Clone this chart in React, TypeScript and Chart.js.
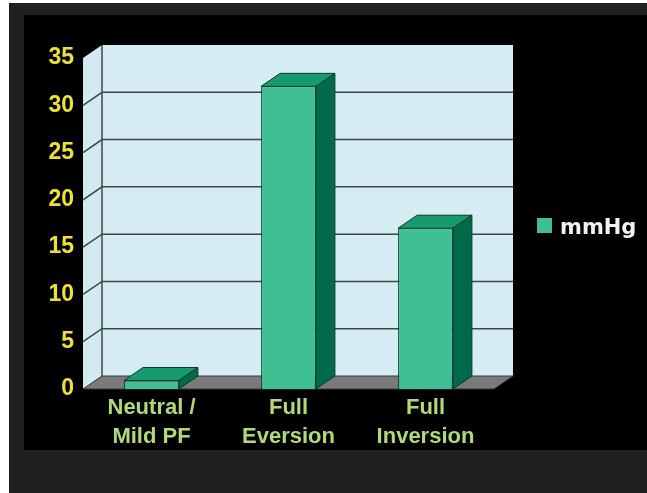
import React, { useEffect, useRef } from "react";
import { Chart, registerables } from "chart.js";

Chart.register(...registerables);

const categories: string[][] = [
  ["Neutral /", "Mild PF"],
  ["Full", "Eversion"],
  ["Full", "Inversion"],
];
const seriesName = "mmHg";
const values = [0.9, 32, 17];
const yMin = 0;
const yMax = 35;
const yStep = 5;

const DX = 19;
const DY = 13;

const threeD = {
  id: "threeD",
  beforeDraw(chart: any) {
    const ctx: CanvasRenderingContext2D = chart.ctx;
    const w = chart.width;
    const h = chart.height;
    ctx.save();
    ctx.fillStyle = "#ffffff";
    ctx.fillRect(0, 0, w, h);
    ctx.fillStyle = "#221f20";
    ctx.fillRect(9, 3, w - 9, h - 3);
    ctx.fillStyle = "#000000";
    ctx.fillRect(24, 15, w - 24, 435);

    const { left, right, top, bottom } = chart.chartArea;
    const ys = chart.scales.y;
    // back wall
    ctx.fillStyle = "#d4ecf2";
    ctx.fillRect(left + DX, top - DY, right - left, bottom - top);
    // left wall
    ctx.beginPath();
    ctx.moveTo(left, top);
    ctx.lineTo(left + DX, top - DY);
    ctx.lineTo(left + DX, bottom - DY);
    ctx.lineTo(left, bottom);
    ctx.closePath();
    ctx.fillStyle = "#d2eaf0";
    ctx.fill();
    // floor
    ctx.beginPath();
    ctx.moveTo(left, bottom);
    ctx.lineTo(right, bottom);
    ctx.lineTo(right + DX, bottom - DY);
    ctx.lineTo(left + DX, bottom - DY);
    ctx.closePath();
    ctx.fillStyle = "#7a7a7a";
    ctx.fill();
    ctx.strokeStyle = "#333b3c";
    ctx.lineWidth = 1;
    ctx.stroke();

    // gridlines
    ctx.strokeStyle = "#3b4749";
    ctx.lineWidth = 1.5;
    for (let v = yMin + yStep; v < yMax; v += yStep) {
      const py = ys.getPixelForValue(v);
      ctx.beginPath();
      ctx.moveTo(left, py);
      ctx.lineTo(left + DX, py - DY);
      ctx.lineTo(right + DX, py - DY);
      ctx.stroke();
    }
    // back wall left edge
    ctx.beginPath();
    ctx.moveTo(left + DX, top - DY);
    ctx.lineTo(left + DX, bottom - DY);
    ctx.stroke();
    ctx.restore();
  },
  afterDatasetsDraw(chart: any) {
    const ctx: CanvasRenderingContext2D = chart.ctx;
    const meta = chart.getDatasetMeta(0);
    ctx.save();
    ctx.lineWidth = 1;
    ctx.strokeStyle = "#0b3a2b";
    meta.data.forEach((bar: any) => {
      const { x, y, base, width } = bar.getProps(["x", "y", "base", "width"], true);
      const x1 = x - width / 2;
      const x2 = x + width / 2;
      // top
      ctx.beginPath();
      ctx.moveTo(x1, y);
      ctx.lineTo(x1 + DX, y - DY);
      ctx.lineTo(x2 + DX, y - DY);
      ctx.lineTo(x2, y);
      ctx.closePath();
      ctx.fillStyle = "#189a70";
      ctx.fill();
      ctx.stroke();
      // side
      ctx.beginPath();
      ctx.moveTo(x2, y);
      ctx.lineTo(x2 + DX, y - DY);
      ctx.lineTo(x2 + DX, base - DY);
      ctx.lineTo(x2, base);
      ctx.closePath();
      ctx.fillStyle = "#016a4a";
      ctx.fill();
      ctx.stroke();
    });
    ctx.restore();
  },
  afterDraw(chart: any) {
    const ctx: CanvasRenderingContext2D = chart.ctx;
    const ds = chart.data.datasets[0];
    ctx.save();
    ctx.fillStyle = ds.backgroundColor;
    ctx.fillRect(537, 218, 15, 15);
    ctx.fillStyle = "#f2f2f2";
    ctx.font = "bold 21px 'DejaVu Sans'";
    ctx.textAlign = "left";
    ctx.textBaseline = "alphabetic";
    ctx.fillText(ds.label, 560, 234);
    ctx.restore();
  },
};

export default function App() {
  const ref = useRef<HTMLCanvasElement | null>(null);
  useEffect(() => {
    document.body.style.margin = "0";
    document.body.style.overflow = "hidden";
    document.documentElement.style.background =
      "linear-gradient(to bottom, #000000 0px, #000000 450px, #221f20 450px, #221f20 100%)";
    const canvas = ref.current!;
    const chart = new Chart(canvas, {
      type: "bar",
      data: {
        labels: categories,
        datasets: [
          {
            label: seriesName,
            data: values,
            backgroundColor: "#40bf94",
            borderColor: "#0b3a2b",
            borderWidth: 1,
            categoryPercentage: 1,
            barPercentage: 0.4,
          },
        ],
      },
      options: {
        responsive: false,
        animation: false,
        devicePixelRatio: 1,
        layout: { padding: { top: 58, right: 153, left: 0, bottom: 0 } },
        plugins: { legend: { display: false }, tooltip: { enabled: false } },
        scales: {
          x: {
            grid: { display: false },
            border: { display: false },
            afterFit: (s: any) => {
              s.height = 104;
            },
            ticks: {
              color: "#b2d977",
              padding: -3,
              font: { family: "'Liberation Sans', Arial", weight: "bold", size: 22, lineHeight: 1.3 },
            },
          },
          y: {
            min: yMin,
            max: yMax,
            grid: { display: false, drawTicks: false },
            border: { display: false },
            afterFit: (s: any) => {
              s.width = 83;
            },
            ticks: {
              stepSize: yStep,
              color: "#ece236",
              padding: 9,
              font: { family: "'Liberation Sans', Arial", weight: "bold", size: 23 },
            },
          },
        },
      },
      plugins: [threeD],
    } as any);
    return () => chart.destroy();
  }, []);
  return (
    <div style={{ position: "absolute", left: 0, top: 0, width: 647, height: 493, overflow: "hidden" }}>
      <canvas ref={ref} width={647} height={493} style={{ display: "block" }} />
    </div>
  );
}
